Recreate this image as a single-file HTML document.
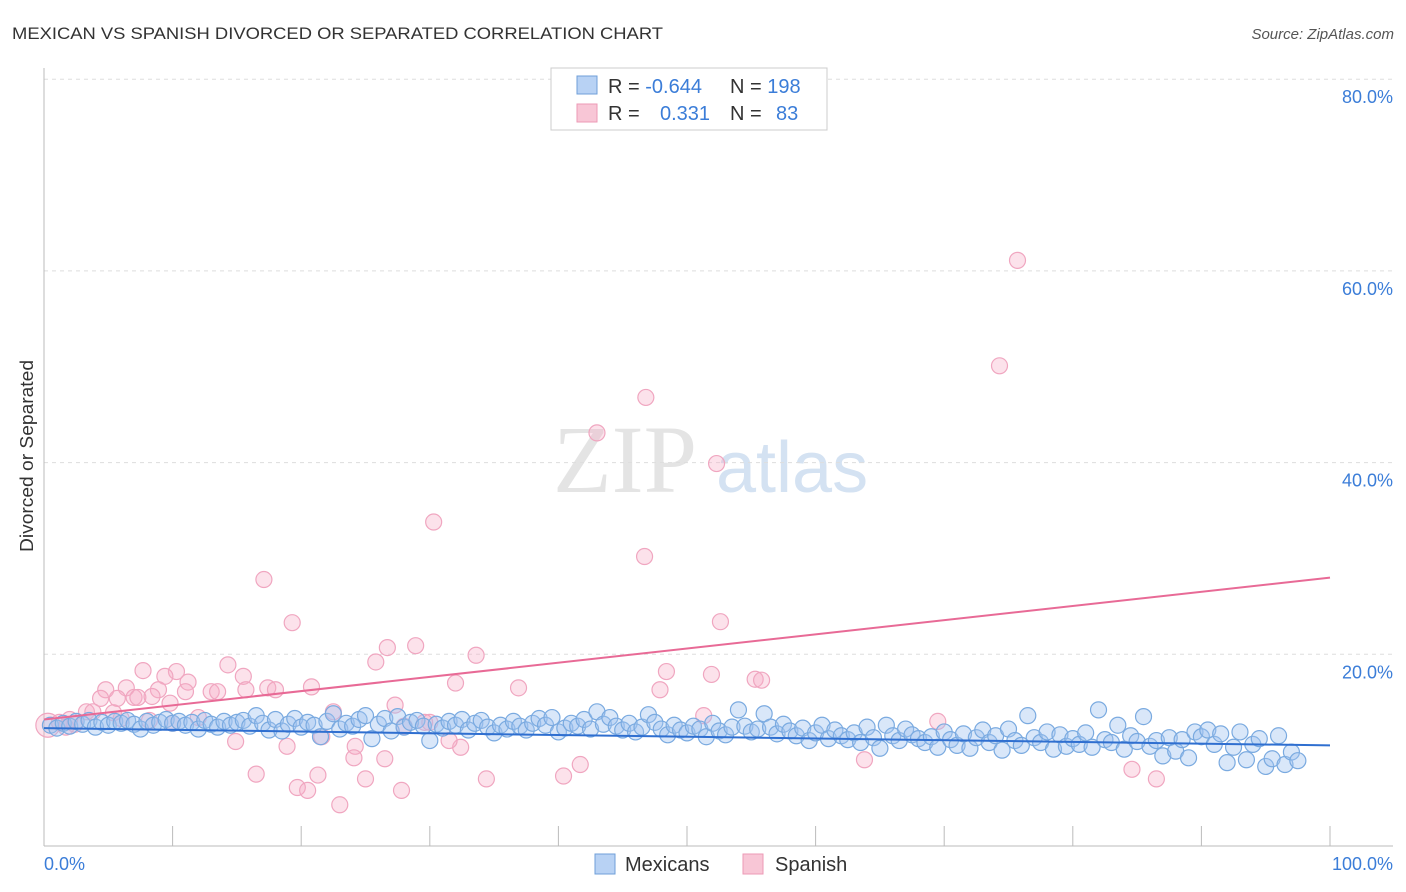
<!DOCTYPE html>
<html><head><meta charset="utf-8"><style>
body{margin:0;background:#fff;font-family:"Liberation Sans",sans-serif;}
svg{display:block}
</style></head><body>
<svg id="c" width="1406" height="892" xmlns="http://www.w3.org/2000/svg">
<text x="12" y="39" font-size="17" fill="#333" textLength="651" lengthAdjust="spacingAndGlyphs">MEXICAN VS SPANISH DIVORCED OR SEPARATED CORRELATION CHART</text>
<text x="1394" y="39" font-size="15" fill="#555" font-style="italic" text-anchor="end">Source: ZipAtlas.com</text>
<text transform="translate(33,456) rotate(-90)" font-size="18" fill="#333" text-anchor="middle" textLength="192" lengthAdjust="spacingAndGlyphs">Divorced or Separated</text>
<g>
<text x="553" y="492" font-size="96" font-family="Liberation Serif,serif" fill="#e4e4e4">ZIP</text>
<text x="716" y="492" font-size="72" fill="#d4e2f2">atlas</text>
</g>
<g id="grid"></g><g id="pts"></g><g id="lines"></g>
<g>
<rect x="551" y="68" width="276" height="62" fill="#fff" stroke="#ccc"/>
<rect x="577" y="76" width="20" height="18" fill="#b8d2f4" stroke="#6f9fd8"/>
<rect x="577" y="104" width="20" height="18" fill="#f8c6d6" stroke="#ec9ab6"/>
<text x="608" y="93" font-size="20" fill="#333">R = <tspan fill="#3b7dd8">-0.644</tspan>  <tspan x="730">N = </tspan><tspan fill="#3b7dd8">198</tspan></text>
<text x="608" y="120" font-size="20" fill="#333">R = <tspan x="660" fill="#3b7dd8">0.331</tspan><tspan x="730">N = </tspan><tspan x="776" fill="#3b7dd8">83</tspan></text>
</g>
<g>
<rect x="595" y="854" width="20" height="20" fill="#b8d2f4" stroke="#6f9fd8"/>
<text x="625" y="871" font-size="20" fill="#333">Mexicans</text>
<rect x="743" y="854" width="20" height="20" fill="#f8c6d6" stroke="#ec9ab6"/>
<text x="775" y="871" font-size="20" fill="#333">Spanish</text>
</g>
</svg>
<script>
const yTicks=[20,40,60,80];
const xTickLabels=["0.0%","100.0%"];
const blue=[[0.5,12.6],[1,12.3],[1.5,12.8],[2,12.5],[2.5,13],[3,12.7],[3.5,13.1],[4,12.4],[4.5,12.9],[5,12.6],[5.5,13],[6,12.8],[6.5,13.1],[7,12.7],[7.5,12.2],[8,13],[8.5,12.6],[9,12.9],[9.5,13.2],[10,12.8],[10.5,13],[11,12.6],[11.5,12.9],[12,12.2],[12.5,13.1],[13,12.7],[13.5,12.4],[14,13],[14.5,12.6],[15,12.9],[15.5,13.1],[16,12.5],[16.5,13.6],[17,12.8],[17.5,12.1],[18,13.2],[18.5,12],[19,12.7],[19.5,13.3],[20,12.4],[20.5,12.9],[21,12.6],[21.5,11.4],[22,13],[22.5,13.8],[23,12.2],[23.5,12.8],[24,12.5],[24.5,13.2],[25,13.6],[25.5,11.2],[26,12.7],[26.5,13.3],[27,12],[27.5,13.5],[28,12.4],[28.5,12.9],[29,13.1],[29.5,12.5],[30,11],[30.5,12.7],[31,12.3],[31.5,13],[32,12.6],[32.5,13.2],[33,12.1],[33.5,12.8],[34,13.1],[34.5,12.4],[35,11.8],[35.5,12.6],[36,12.2],[36.5,13],[37,12.5],[37.5,12.1],[38,12.8],[38.5,13.3],[39,12.6],[39.5,13.4],[40,11.9],[40.5,12.3],[41,12.8],[41.5,12.5],[42,13.2],[42.5,12.2],[43,14],[43.5,12.7],[44,13.4],[44.5,12.5],[45,12.1],[45.5,12.8],[46,11.9],[46.5,12.4],[47,13.7],[47.5,12.9],[48,12.2],[48.5,11.6],[49,12.6],[49.5,12.1],[50,11.8],[50.5,12.5],[51,12.2],[51.5,11.4],[52,12.8],[52.5,12],[53,11.6],[53.5,12.4],[54,14.2],[54.5,12.5],[55,11.9],[55.5,12.2],[56,13.8],[56.5,12.4],[57,11.7],[57.5,12.7],[58,12],[58.5,11.5],[59,12.3],[59.5,11.0],[60,11.8],[60.5,12.6],[61,11.2],[61.5,12.1],[62,11.5],[62.5,11.1],[63,11.8],[63.5,10.8],[64,12.4],[64.5,11.3],[65,10.2],[65.5,12.6],[66,11.5],[66.5,11],[67,12.2],[67.5,11.6],[68,11.2],[68.5,10.8],[69,11.4],[69.5,10.3],[70,11.9],[70.5,11.1],[71,10.5],[71.5,11.7],[72,10.2],[72.5,11.3],[73,12.1],[73.5,10.8],[74,11.5],[74.5,10],[75,12.2],[75.5,11.0],[76,10.5],[76.5,13.6],[77,11.3],[77.5,10.8],[78,11.9],[78.5,10.1],[79,11.6],[79.5,10.4],[80,11.2],[80.5,10.6],[81,11.8],[81.5,10.3],[82,14.2],[82.5,11.1],[83,10.8],[83.5,12.6],[84,10.1],[84.5,11.5],[85,10.9],[85.5,13.5],[86,10.4],[86.5,11.0],[87,9.4],[87.5,11.3],[88,9.9],[88.5,11.1],[89,9.2],[89.5,11.9],[90,11.4],[90.5,12.1],[91,10.6],[91.5,11.7],[92,8.7],[92.5,10.3],[93,11.9],[93.5,9.0],[94,10.6],[94.5,11.2],[95,8.3],[95.5,9.1],[96,11.5],[96.5,8.5],[97,9.8],[97.5,8.9]];
const pink=[[75.7,61.1],[74.3,50.1],[46.8,46.8],[43,43.1],[52.3,39.9],[30.3,33.8],[46.7,30.2],[17.1,27.8],[19.3,23.3],[52.6,23.4],[28.9,20.9],[26.7,20.7],[33.6,19.9],[25.8,19.2],[14.3,18.9],[7.7,18.3],[10.3,18.2],[9.4,17.7],[15.5,17.7],[48.4,18.2],[51.9,17.9],[55.3,17.4],[55.8,17.3],[11.2,17.1],[32,17],[6.4,16.5],[8.9,16.3],[17.4,16.5],[18,16.3],[20.8,16.6],[36.9,16.5],[47.9,16.3],[4.8,16.3],[15.7,16.3],[11,16.1],[13,16.1],[13.5,16.1],[7,15.5],[7.3,15.5],[4.4,15.4],[8.4,15.6],[5.7,15.4],[9.8,14.9],[27.3,14.7],[3.3,14],[3.8,14],[5.4,13.9],[22.5,14],[51.3,13.6],[69.5,13],[0.3,12.6],[1.2,12.9],[2.4,12.7],[14.9,10.9],[21.6,11.4],[18.9,10.4],[24.2,10.4],[32.4,10.3],[31.5,11],[24.1,9.2],[26.5,9.1],[41.7,8.5],[63.8,9],[84.6,8],[16.5,7.5],[21.3,7.4],[34.4,7],[25,7],[40.4,7.3],[86.5,7],[19.7,6.1],[20.5,5.8],[27.8,5.8],[23,4.3],[29.6,12.9],[30,12.9],[8.2,13.1],[12,13.4],[2,13.2],[6,13.3],[10,12.8],[28,12.5],[1.7,12.4]];
const blueFit=[12.3,10.5];
const pinkFit=[13.2,28.0];
const NS="http://www.w3.org/2000/svg";
const X=v=>44+v*12.86, Y=v=>846-v*9.585;
function mk(t,a,p){const e=document.createElementNS(NS,t);for(const k in a)e.setAttribute(k,a[k]);p.appendChild(e);return e;}
const g=document.getElementById('grid');
yTicks.forEach(t=>{
 const l=mk('line',{x1:44,x2:1393,y1:Y(t),y2:Y(t),stroke:'#ddd','stroke-dasharray':'4,4'},g);
 
 
 const tx=mk('text',{x:1393,y:Y(t)+24,'font-size':18,fill:'#3b7dd8','text-anchor':'end'},g);tx.textContent=t.toFixed(1)+'%';
 
 
});
const ax=mk('line',{x1:44,x2:1393,y1:846,y2:846,stroke:'#bbb'},g);


const ay=mk('line',{x1:44,x2:44,y1:68,y2:846,stroke:'#bbb'},g);


for(let i=1;i<=10;i++){const tk=mk('line',{x1:X(i*10),x2:X(i*10),y1:826,y2:846,stroke:'#bbb'},g);
 
 }
const xl0=mk('text',{x:44,y:870,'font-size':18,fill:'#3b7dd8'},g);xl0.textContent=xTickLabels[0];


const xl1=mk('text',{x:1393,y:870,'font-size':18,fill:'#3b7dd8','text-anchor':'end'},g);xl1.textContent=xTickLabels[1];


const P=document.getElementById('pts');
pink.forEach((d,i)=>{const c=mk('circle',{cx:X(d[0]),cy:Y(d[1]),r:i==50?12:8,fill:'rgba(246,172,198,0.35)',stroke:'#f0a6c0','stroke-width':1.2},P);
 
 });
blue.forEach(d=>{const c=mk('circle',{cx:X(d[0]),cy:Y(d[1]),r:8,fill:'rgba(160,196,240,0.4)',stroke:'#7aaae0','stroke-width':1.2},P);
 
 });
const L=document.getElementById('lines');
const bl=mk('line',{x1:X(0),y1:Y(blueFit[0]),x2:X(100),y2:Y(blueFit[1]),stroke:'#2f6fd0','stroke-width':2},L);


const pl=mk('line',{x1:X(0),y1:Y(pinkFit[0]),x2:X(100),y2:Y(pinkFit[1]),stroke:'#e86a96','stroke-width':2},L);


</script>
</body></html>
